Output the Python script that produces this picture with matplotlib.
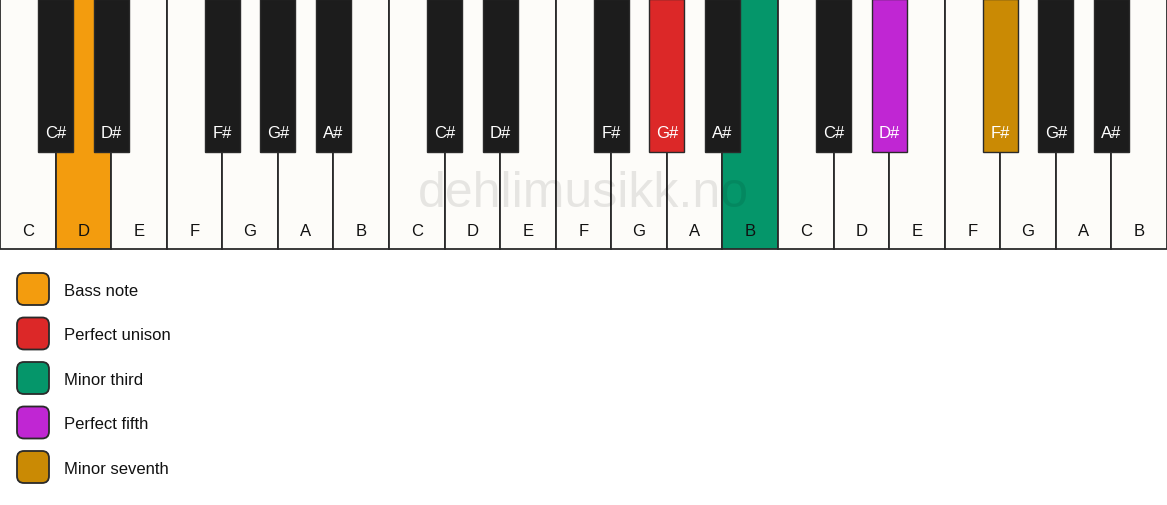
import matplotlib.pyplot as plt
from matplotlib.patches import Rectangle, FancyBboxPatch

# keyboard notes (3 octaves)
white_notes = ["C", "D", "E", "F", "G", "A", "B"] * 3
black_notes = ["C#", "D#", "F#", "G#", "A#"] * 3
black_after = [0, 1, 3, 4, 5]  # white index in octave the black key sits after

# highlighted keys: (kind, index in its list, color)
highlights = [
    ("white", 1, "#F39C0E"),
    ("black", 8, "#DC2828"),
    ("white", 13, "#05966A"),
    ("black", 11, "#C026D3"),
    ("black", 12, "#CA8A04"),
]

legend_labels = ["Bass note", "Perfect unison", "Minor third", "Perfect fifth", "Minor seventh"]
legend_colors = ["#F39C0E", "#DC2828", "#05966A", "#C026D3", "#CA8A04"]

W, H = 1167, 506
plt.rcParams['font.family'] = ['Liberation Sans', 'DejaVu Sans']
fig = plt.figure(figsize=(W / 100, H / 100), dpi=100)
ax = fig.add_axes([0, 0, 1, 1])
ax.set_xlim(0, W)
ax.set_ylim(H, 0)
ax.axis('off')

kw = W / len(white_notes)
kh = 250
bw = 35
bh = 153
white_hl = {i: c for k, i, c in highlights if k == "white"}
black_hl = {i: c for k, i, c in highlights if k == "black"}

for i, n in enumerate(white_notes):
    fc = white_hl.get(i, "#FDFCF9")
    ax.add_patch(Rectangle((i * kw, 0), kw, kh, facecolor=fc, edgecolor="#2a2a2a", lw=1.3, zorder=1))
    ax.text(i * kw + kw / 2, 231, n, ha='center', va='center', fontsize=12, color="#111111", zorder=4)

for j, n in enumerate(black_notes):
    octv = j // 5
    wi = octv * 7 + black_after[j % 5] + 1
    x = wi * kw - bw / 2
    fc = black_hl.get(j, "#1C1C1C")
    ax.add_patch(Rectangle((x, 0), bw, bh, facecolor=fc, edgecolor="#2a2a2a", lw=1.0, zorder=2))
    ax.text(wi * kw, 133, n, ha='center', va='center', fontsize=12, color="white", zorder=4)

ax.text(W / 2, 194, "dehlimusikk.no", ha='center', va='center', fontsize=36,
        color="#000000", alpha=0.09, zorder=5)

for k, (lab, c) in enumerate(zip(legend_labels, legend_colors)):
    y = 290 + k * 44.5
    ax.add_patch(FancyBboxPatch((17, y - 16), 32, 32, boxstyle="round,pad=0,rounding_size=7",
                                facecolor=c, edgecolor="#2a2a2a", lw=1.3))
    ax.text(64, y + 1.5, lab, ha='left', va='center', fontsize=12, color="#111111")

fig.savefig("out.png", dpi=100)
